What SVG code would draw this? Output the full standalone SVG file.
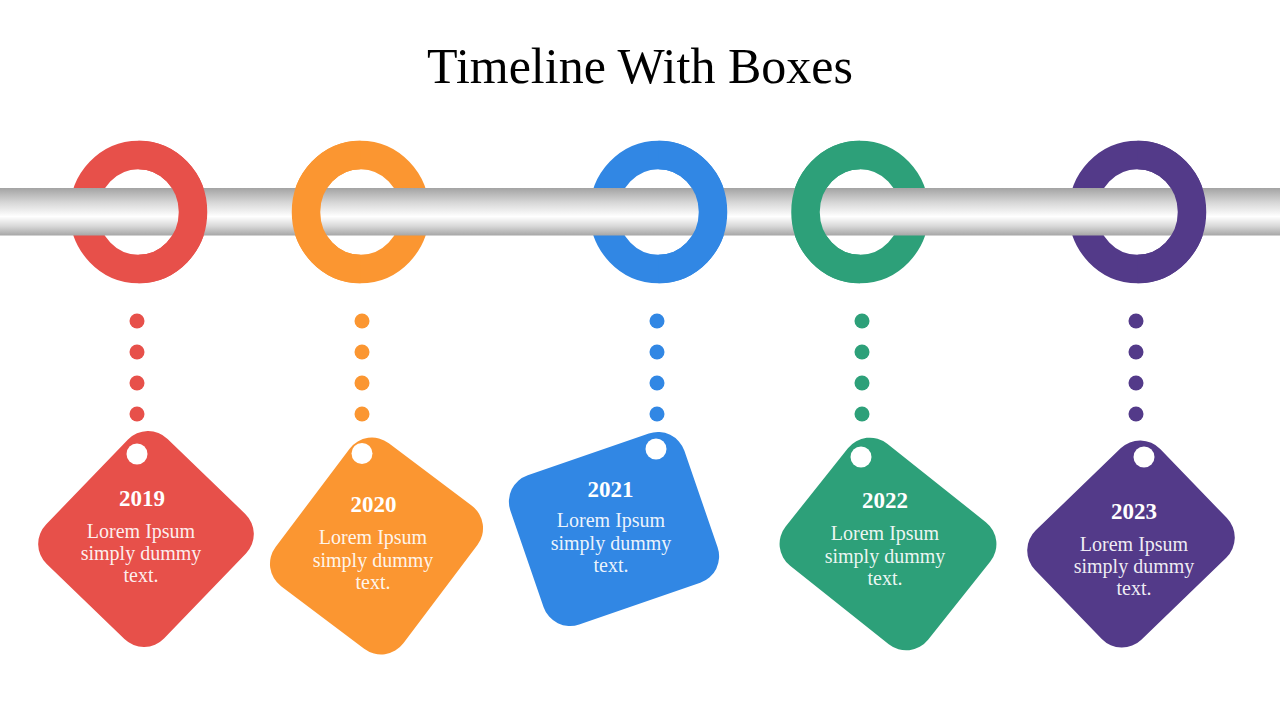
<svg xmlns="http://www.w3.org/2000/svg" width="1280" height="720" viewBox="0 0 1280 720">
<defs>
<linearGradient id="barGrad" x1="0" y1="0" x2="0" y2="1">
<stop offset="0" stop-color="#a3a3a3"/>
<stop offset="0.3" stop-color="#d6d6d6"/>
<stop offset="0.6" stop-color="#ffffff"/>
<stop offset="0.8" stop-color="#d9d9d9"/>
<stop offset="1" stop-color="#a6a6a6"/>
</linearGradient>
<clipPath id="cR" clipPathUnits="userSpaceOnUse"><rect x="138.5" y="130" width="80" height="160"/></clipPath>
<clipPath id="cO" clipPathUnits="userSpaceOnUse"><rect x="280" y="130" width="80.5" height="160"/></clipPath>
<clipPath id="cB" clipPathUnits="userSpaceOnUse"><rect x="658.5" y="130" width="80" height="160"/></clipPath>
<clipPath id="cG" clipPathUnits="userSpaceOnUse"><rect x="780" y="130" width="80" height="160"/></clipPath>
<clipPath id="cP" clipPathUnits="userSpaceOnUse"><rect x="1137.5" y="130" width="80" height="160"/></clipPath>
</defs>
<style>
.ring{fill:none;stroke-width:28.5}
.hole{fill:#ffffff}
.yr{font-family:"Liberation Serif","Times New Roman",serif;font-weight:bold;font-size:23px;fill:#ffffff;text-anchor:middle}
.bd{font-family:"Liberation Serif","Times New Roman",serif;font-size:20px;fill:#ffffff;fill-opacity:0.92;text-anchor:middle}
.title{font-family:"Liberation Serif","Times New Roman",serif;font-size:50px;fill:#000000;text-anchor:middle}
.red{stroke:#E7504A}.orange{stroke:#FB9631}.blue{stroke:#3187E4}.green{stroke:#2DA079}.purple{stroke:#533A89}
.fred{fill:#E7504A}.forange{fill:#FB9631}.fblue{fill:#3187E4}.fgreen{fill:#2DA079}.fpurple{fill:#533A89}
</style>
<rect width="1280" height="720" fill="#ffffff"/>
<text class="title" x="640" y="83">Timeline With Boxes</text>

<g id="rings-under">
<ellipse class="ring red" cx="138.5" cy="212" rx="54.5" ry="57"/>
<ellipse class="ring orange" cx="360.5" cy="212" rx="54.5" ry="57"/>
<ellipse class="ring blue" cx="658.5" cy="212" rx="54.5" ry="57"/>
<ellipse class="ring green" cx="860" cy="212" rx="54.5" ry="57"/>
<ellipse class="ring purple" cx="1137.5" cy="212" rx="54.5" ry="57"/>
</g>
<g id="bar"><rect x="0" y="188" width="1280" height="47.5" fill="url(#barGrad)"/></g>
<g id="rings-over">
<ellipse class="ring red" cx="138.5" cy="212" rx="54.5" ry="57" clip-path="url(#cR)"/>
<ellipse class="ring orange" cx="360.5" cy="212" rx="54.5" ry="57" clip-path="url(#cO)"/>
<ellipse class="ring blue" cx="658.5" cy="212" rx="54.5" ry="57" clip-path="url(#cB)"/>
<ellipse class="ring green" cx="860" cy="212" rx="54.5" ry="57" clip-path="url(#cG)"/>
<ellipse class="ring purple" cx="1137.5" cy="212" rx="54.5" ry="57" clip-path="url(#cP)"/>
</g>

<g id="connectors">
<g class="fred"><circle cx="137" cy="321" r="7.5"/><circle cx="137" cy="352" r="7.5"/><circle cx="137" cy="383" r="7.5"/><circle cx="137" cy="414" r="7.5"/></g>
<g class="forange"><circle cx="362" cy="321" r="7.5"/><circle cx="362" cy="352" r="7.5"/><circle cx="362" cy="383" r="7.5"/><circle cx="362" cy="414" r="7.5"/></g>
<g class="fblue"><circle cx="657" cy="321" r="7.5"/><circle cx="657" cy="352" r="7.5"/><circle cx="657" cy="383" r="7.5"/><circle cx="657" cy="414" r="7.5"/></g>
<g class="fgreen"><circle cx="862" cy="321" r="7.5"/><circle cx="862" cy="352" r="7.5"/><circle cx="862" cy="383" r="7.5"/><circle cx="862" cy="414" r="7.5"/></g>
<g class="fpurple"><circle cx="1136" cy="321" r="7.5"/><circle cx="1136" cy="352" r="7.5"/><circle cx="1136" cy="383" r="7.5"/><circle cx="1136" cy="414" r="7.5"/></g>
</g>

<g id="node-2019">
<rect class="fred" x="-87" y="-82" width="174" height="164" rx="28" transform="translate(146 539) rotate(-46)"/>
<circle class="hole" cx="137" cy="454" r="10.5"/>
<text class="yr" x="142" y="506">2019</text>
<text class="bd" x="141" y="538">Lorem Ipsum</text>
<text class="bd" x="141" y="560">simply dummy</text>
<text class="bd" x="141" y="582">text.</text>
</g>

<g id="node-2020">
<rect class="forange" x="-89.5" y="-80" width="179" height="160" rx="28" transform="translate(376.5 546) rotate(-53)"/>
<circle class="hole" cx="362" cy="453.5" r="10.5"/>
<text class="yr" x="373.5" y="512">2020</text>
<text class="bd" x="373" y="544">Lorem Ipsum</text>
<text class="bd" x="373" y="567">simply dummy</text>
<text class="bd" x="373" y="589">text.</text>
</g>

<g id="node-2021">
<rect class="fblue" x="-92" y="-79" width="184" height="158" rx="28" transform="translate(614 529) rotate(-19)"/>
<circle class="hole" cx="656" cy="449" r="10.5"/>
<text class="yr" x="610.5" y="497">2021</text>
<text class="bd" x="611" y="527">Lorem Ipsum</text>
<text class="bd" x="611" y="550">simply dummy</text>
<text class="bd" x="611" y="572">text.</text>
</g>

<g id="node-2022">
<rect class="fgreen" x="-91" y="-78" width="182" height="156" rx="28" transform="translate(888 544) rotate(38.5)"/>
<circle class="hole" cx="861" cy="457" r="10.5"/>
<text class="yr" x="885" y="508">2022</text>
<text class="bd" x="885" y="540">Lorem Ipsum</text>
<text class="bd" x="885" y="563">simply dummy</text>
<text class="bd" x="885" y="585">text.</text>
</g>

<g id="node-2023">
<rect class="fpurple" x="-87" y="-76" width="174" height="152" rx="28" transform="translate(1131 544) rotate(-44)"/>
<circle class="hole" cx="1144" cy="457" r="10.5"/>
<text class="yr" x="1134" y="519">2023</text>
<text class="bd" x="1134" y="551">Lorem Ipsum</text>
<text class="bd" x="1134" y="573">simply dummy</text>
<text class="bd" x="1134" y="595">text.</text>
</g>
</svg>
